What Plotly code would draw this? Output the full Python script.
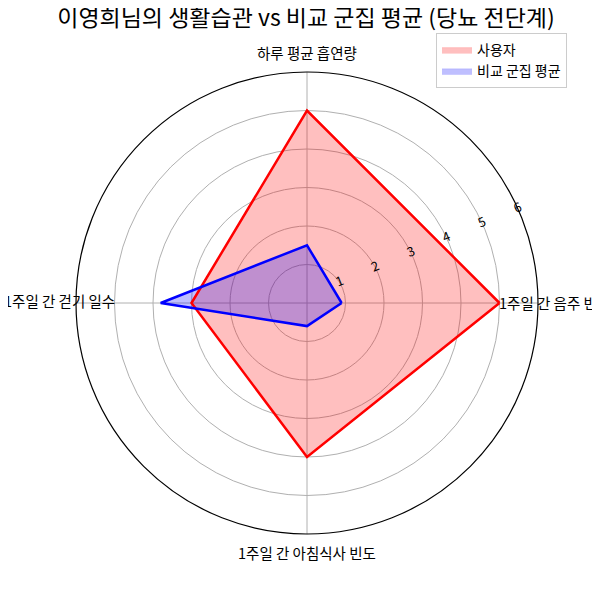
import plotly.graph_objects as go

categories = ["1주일 간 음주 빈도", "하루 평균 흡연량", "1주일 간 걷기 일수", "1주일 간 아침식사 빈도"]
user_values = [5, 5, 3, 4]
group_values = [0.9, 1.5, 3.8, 0.6]
radial_ticks = [1, 2, 3, 4, 5, 6]

font_family = "Noto Sans CJK KR, Noto Sans, DejaVu Sans"
OFF = 8  # page body margin offset


def px_x(px):
    return (px - OFF) / 600


def px_y(py):
    return 1 - (py - OFF) / 600


fig = go.Figure()
series = [("사용자", user_values, "red", "rgba(255,0,0,0.25)"),
          ("비교 군집 평균", group_values, "blue", "rgba(0,0,255,0.25)")]
for name, vals, col, fill in series:
    fig.add_trace(go.Scatterpolar(
        r=vals + vals[:1], theta=categories + categories[:1],
        name=name, mode="lines", fill="toself",
        fillcolor=fill, line=dict(color=fill, width=0.5),
    ))
for name, vals, col, fill in series:
    fig.add_trace(go.Scatterpolar(
        r=vals + vals[:1], theta=categories + categories[:1],
        name=name, mode="lines", showlegend=False,
        line=dict(color=col, width=2.5),
    ))

label_pos = [(497, 302, "left"), (307, 52, "center"), (117, 300, "right"), (307, 552, "center")]
annotations = []
for cat, (px, py, anchor) in zip(categories, label_pos):
    annotations.append(dict(text=cat, x=px_x(px), y=px_y(py), xref="paper", yref="paper",
                            xanchor=anchor, yanchor="middle", showarrow=False,
                            font=dict(size=14.5, color="black")))

cx, cy, R = 307, 303, 231
fig.update_layout(
    width=600, height=600,
    margin=dict(l=0, r=0, t=0, b=0),
    paper_bgcolor="white",
    font=dict(family=font_family, size=13, color="black"),
    title=dict(text="이영희님의 생활습관 vs 비교 군집 평균 (당뇨 전단계)",
               x=px_x(306), xanchor="center", y=px_y(18), yanchor="middle",
               font=dict(size=23, color="black")),
    annotations=annotations,
    polar=dict(
        domain=dict(x=[px_x(cx - R), px_x(cx + R)], y=[px_y(cy + R), px_y(cy - R)]),
        bgcolor="white",
        radialaxis=dict(range=[0, 6], tickvals=radial_ticks, angle=22.5, tickangle=0,
                        side="counterclockwise", tickprefix="\u00a0\u00a0\u00a0",
                        showline=False, ticks="", gridcolor="#b0b0b0", gridwidth=1,
                        tickfont=dict(size=13, color="black")),
        angularaxis=dict(rotation=0, direction="counterclockwise",
                         showline=True, linecolor="black", linewidth=1.2,
                         gridcolor="#b0b0b0", ticks="", showticklabels=False),
    ),
    legend=dict(x=px_x(436), y=px_y(33), xanchor="left", yanchor="top",
                bordercolor="#cccccc", borderwidth=1, bgcolor="white",
                font=dict(size=14), itemwidth=30, tracegroupgap=0),
)

fig.write_html("out.html")
